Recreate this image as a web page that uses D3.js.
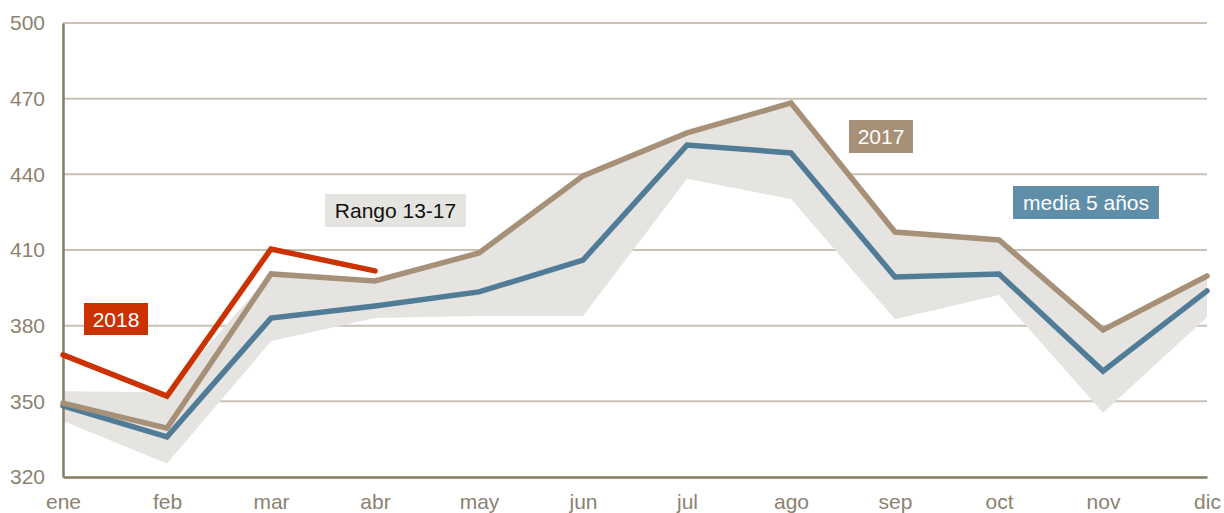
<!DOCTYPE html>
<html>
<head>
<meta charset="utf-8">
<script src="https://cdn.jsdelivr.net/npm/d3@7"></script>
<style>
  body { margin: 0; background: #fff; }
  svg text { font-family: "Liberation Sans", Arial, sans-serif; }
</style>
</head>
<body>
<div id="chart"></div>
<script>
// meses y series
var months = ["ene", "feb", "mar", "abr", "may", "jun", "jul", "ago", "sep", "oct", "nov", "dic"];
var yTicks = [320, 350, 380, 410, 440, 470, 500];

var serie2018 = [368.4, 352.1, 410.4, 401.7];
var serie2017 = [349.3, 339.4, 400.5, 397.7, 408.8, 439.4, 456.4, 468.3, 417.1, 414.0, 378.3, 399.7];
var media5 = [348.2, 335.9, 383.0, 387.8, 393.4, 406.0, 451.6, 448.5, 399.3, 400.5, 362.0, 393.8];
var rangoMin = [342.2, 325.4, 373.8, 383.0, 383.8, 383.8, 438.2, 430.2, 382.5, 392.2, 345.5, 383.3];
var rangoMax = [354.0, 353.6, 400.5, 397.7, 408.8, 439.4, 456.4, 468.3, 417.1, 414.0, 378.3, 399.7];

var width = 1224, height = 513;
var margin = { left: 63, right: 17, top: 23, bottom: 36 };

var svg = d3.select("#chart").append("svg")
  .attr("width", width)
  .attr("height", height);

var x = d3.scalePoint()
  .domain(months)
  .range([margin.left, width - margin.right]);

var y = d3.scaleLinear()
  .domain([320, 500])
  .range([height - margin.bottom, margin.top]);

// rejilla
svg.append("g")
  .selectAll("line")
  .data(yTicks.slice(1))
  .enter()
  .append("line")
    .attr("x1", margin.left)
    .attr("x2", width - margin.right)
    .attr("y1", function(d) { return y(d); })
    .attr("y2", function(d) { return y(d); })
    .attr("stroke", "#c9c2b3")
    .attr("stroke-width", 2);

// banda rango 13-17
var area = d3.area()
  .x(function(d, i) { return x(months[i]); })
  .y0(function(d, i) { return y(rangoMin[i]); })
  .y1(function(d, i) { return y(rangoMax[i]); });

svg.append("path")
  .datum(rangoMin)
  .attr("d", area)
  .attr("fill", "#e6e4e0");

// ejes
var yAxis = d3.axisLeft(y).tickValues(yTicks).tickSize(0).tickPadding(18);
var gy = svg.append("g")
  .attr("transform", "translate(" + margin.left + ",0)")
  .call(yAxis);
gy.select(".domain").attr("stroke", "#857b67").attr("stroke-width", 2.5);
gy.selectAll("text")
  .attr("fill", "#8c8270")
  .style("font-size", "21px");

var xAxis = d3.axisBottom(x).tickSize(0).tickPadding(17);
var gx = svg.append("g")
  .attr("transform", "translate(0," + y(320) + ")")
  .call(xAxis);
gx.select(".domain").attr("stroke", "#857b67").attr("stroke-width", 2.5);
gx.selectAll("text")
  .attr("fill", "#8c8270")
  .style("font-size", "21px");

// lineas
var line = d3.line()
  .x(function(d, i) { return x(months[i]); })
  .y(function(d) { return y(d); });

function drawLine(data, color) {
  svg.append("path")
    .datum(data)
    .attr("d", line)
    .attr("fill", "none")
    .attr("stroke", color)
    .attr("stroke-width", 5.5)
    .attr("stroke-linejoin", "miter")
    .attr("stroke-linecap", "round");
}

drawLine(media5, "#517c97");
drawLine(serie2017, "#a69078");
drawLine(serie2018, "#cc3100");

// etiquetas
var labels = [
  { text: "2018", x: 84, y: 303, w: 64, h: 32, bg: "#cc3100", fg: "#fff" },
  { text: "Rango 13-17", x: 325, y: 194, w: 141, h: 33, bg: "#e6e4e0", fg: "#111" },
  { text: "2017", x: 849, y: 120, w: 64, h: 33, bg: "#a69078", fg: "#fff" },
  { text: "media 5 años", x: 1013, y: 186, w: 146, h: 33, bg: "#5f8ea9", fg: "#fff" }
];

var lg = svg.append("g")
  .selectAll("g")
  .data(labels)
  .enter()
  .append("g");

lg.append("rect")
  .attr("x", function(d) { return d.x; })
  .attr("y", function(d) { return d.y; })
  .attr("width", function(d) { return d.w; })
  .attr("height", function(d) { return d.h; })
  .attr("fill", function(d) { return d.bg; });

lg.append("text")
  .attr("x", function(d) { return d.x + d.w / 2; })
  .attr("y", function(d) { return d.y + d.h / 2 + 7.5; })
  .attr("text-anchor", "middle")
  .attr("fill", function(d) { return d.fg; })
  .style("font-size", "21px")
  .text(function(d) { return d.text; });
</script>
</body>
</html>
